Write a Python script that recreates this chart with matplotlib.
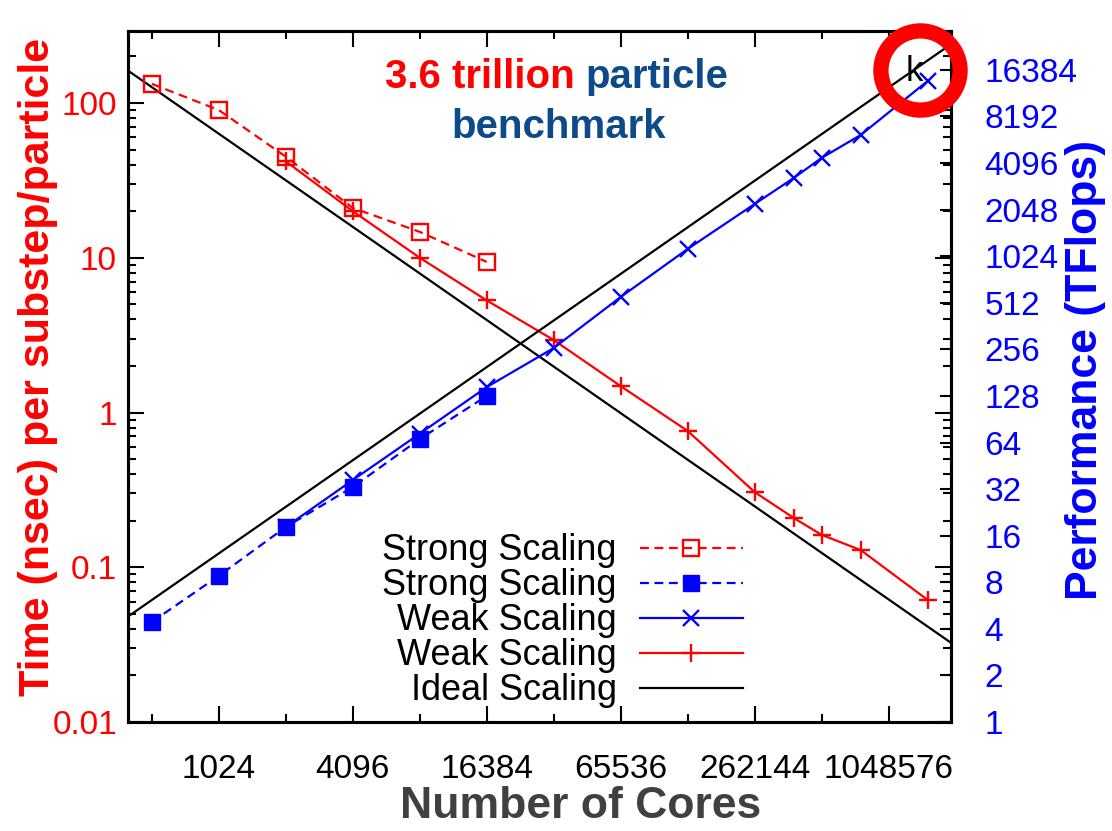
import matplotlib
matplotlib.use('Agg')
import matplotlib.pyplot as plt
from matplotlib.ticker import FixedLocator, FixedFormatter, NullFormatter

plt.rcParams['font.family'] = ['Liberation Sans', 'DejaVu Sans']

# ---------------- data ----------------
strong_cores = [512, 1024, 2048, 4096, 8192, 16384]
strong_time = [133, 90, 45, 21, 14.7, 9.4]          # nsec per substep/particle
strong_perf = [4.43, 8.8, 18.2, 33.0, 67.4, 128]    # TFlops

weak_cores = [2048, 4096, 8192, 16384, 32768, 65536, 131072, 262144,
              393216, 524288, 786432, 1572864]
weak_time = [42, 20, 10, 5.3, 2.94, 1.48, 0.76, 0.306, 0.208, 0.162, 0.129, 0.0614]
weak_perf = [18.2, 36.6, 73, 146, 261, 558, 1140, 2226, 3280, 4420, 6220, 13900]

ideal_cores = [400, 2000000]
ideal_time = [162, 0.0325]
ideal_perf = [4.8, 24000]

x_major = [1024, 4096, 16384, 65536, 262144, 1048576]
x_minor = [512, 2048, 8192, 32768, 131072, 524288]
y_left_ticks = [0.01, 0.1, 1, 10, 100]
y_left_labels = ['0.01', '0.1', '1', '10', '100']
y_right_ticks = [1, 2, 4, 8, 16, 32, 64, 128, 256, 512, 1024, 2048, 4096, 8192, 16384]

legend_labels = ['Strong Scaling', 'Strong Scaling', 'Weak Scaling', 'Weak Scaling', 'Ideal Scaling']

RED = '#FF0000'
BLUE = '#0000FF'
NAVY = '#0D4A8A'

# ---------------- figure ----------------
fig = plt.figure(figsize=(11.12, 8.31), dpi=100)
ax = fig.add_axes([128 / 1112, 1 - 722 / 831, (951 - 128) / 1112, (722 - 31) / 831])
ax2 = ax.twinx()

lw = 1.6
dash = (0, (4, 2.5))

l_ideal_t, = ax.plot(ideal_cores, ideal_time, color='black', lw=lw, zorder=2)
l_weak_red, = ax.plot(weak_cores, weak_time, color=RED, lw=lw, marker='+',
                      ms=13, mew=1.7, zorder=4)
l_strong_red, = ax.plot(strong_cores, strong_time, color=RED, lw=lw, ls=dash,
                        marker='s', ms=12, mfc='none', mec=RED, mew=1.7, zorder=3)

l_ideal_p, = ax2.plot(ideal_cores, ideal_perf, color='black', lw=lw, zorder=2)
l_strong_blue, = ax2.plot(strong_cores, strong_perf, color=BLUE, lw=lw, ls=dash,
                          marker='s', ms=12, mfc=BLUE, mec=BLUE, zorder=3)
l_weak_blue, = ax2.plot(weak_cores, weak_perf, color=BLUE, lw=lw, marker='x',
                        ms=12, mew=1.7, zorder=4)

# ---------------- axes ----------------
ax.set_xscale('log', base=2)
ax.set_yscale('log')
ax2.set_yscale('log', base=2)
ax.set_xlim(400, 2.0e6)
ax.set_ylim(0.01, 292)
ax2.set_ylim(1, 29200)

ax.xaxis.set_major_locator(FixedLocator(x_major))
ax.xaxis.set_major_formatter(FixedFormatter([str(v) for v in x_major]))
ax.xaxis.set_minor_locator(FixedLocator(x_minor))
ax.xaxis.set_minor_formatter(NullFormatter())

ax.yaxis.set_major_locator(FixedLocator(y_left_ticks))
ax.yaxis.set_major_formatter(FixedFormatter(y_left_labels))
minor_left = [m * 10.0 ** e for e in range(-2, 3) for m in range(2, 10)]
ax.yaxis.set_minor_locator(FixedLocator(minor_left))
ax.yaxis.set_minor_formatter(NullFormatter())

ax2.yaxis.set_major_locator(FixedLocator(y_right_ticks))
ax2.yaxis.set_major_formatter(FixedFormatter([str(v) for v in y_right_ticks]))
ax2.yaxis.set_minor_locator(FixedLocator([]))

for s in list(ax.spines.values()) + list(ax2.spines.values()):
    s.set_linewidth(2.2)

ax.tick_params(axis='both', which='major', direction='in', length=11.5, width=1.5,
               top=True, right=True, labelsize=24)
ax.tick_params(axis='both', which='minor', direction='in', length=6, width=1.5,
               top=True, right=True)
ax.tick_params(axis='x', which='major', pad=23, labelcolor='black')
ax.tick_params(axis='y', which='major', pad=8, labelcolor=RED)
ax2.tick_params(axis='y', which='major', direction='in', length=8, width=1.5,
                labelsize=24, labelcolor=BLUE, pad=24)

# ---------------- legend ----------------
leg = ax2.legend([l_strong_red, l_strong_blue, l_weak_blue, l_weak_red, l_ideal_t],
                 legend_labels, loc='lower right', bbox_to_anchor=(0.747, 0.02),
                 markerfirst=False, frameon=False, fontsize=26, handlelength=2.85,
                 handletextpad=0.64, labelspacing=0.0, borderpad=0,
                 borderaxespad=0, numpoints=1)

# ---------------- texts ----------------
fig.text(575 / 1112, 1 - 88 / 831, '3.6 trillion', color=RED, fontsize=29,
         fontweight='bold', ha='right', va='baseline')
fig.text(585 / 1112, 1 - 88 / 831, 'particle', color=NAVY, fontsize=29,
         fontweight='bold', ha='left', va='baseline')
fig.text(559 / 1112, 1 - 138 / 831, 'benchmark', color=NAVY, fontsize=29,
         fontweight='bold', ha='center', va='baseline')

fig.text(38 / 1112, 1 - 367 / 831, 'Time (nsec) per substep/particle', color=RED,
         fontsize=31, fontweight='bold', rotation=90, ha='center', va='center')
fig.text(1085 / 1112, 1 - 370 / 831, 'Performance (TFlops)', color=BLUE,
         fontsize=32, fontweight='bold', rotation=90, ha='center', va='center')
fig.text(581 / 1112, 1 - 806 / 831, 'Number of Cores', color='#404040',
         fontsize=32, fontweight='bold', ha='center', va='center')

# annotation: red circle with the clipped "k"
ax2.text(0.955, 0.942, 'k', transform=ax2.transAxes, fontsize=25, color='black',
         ha='center', va='center', zorder=6)
ax2.plot([0.962], [0.9436], transform=ax2.transAxes, marker='o', ms=57,
         mfc='none', mec=RED, mew=11, clip_on=False, zorder=7)

fig.savefig('out.png', dpi=100)
